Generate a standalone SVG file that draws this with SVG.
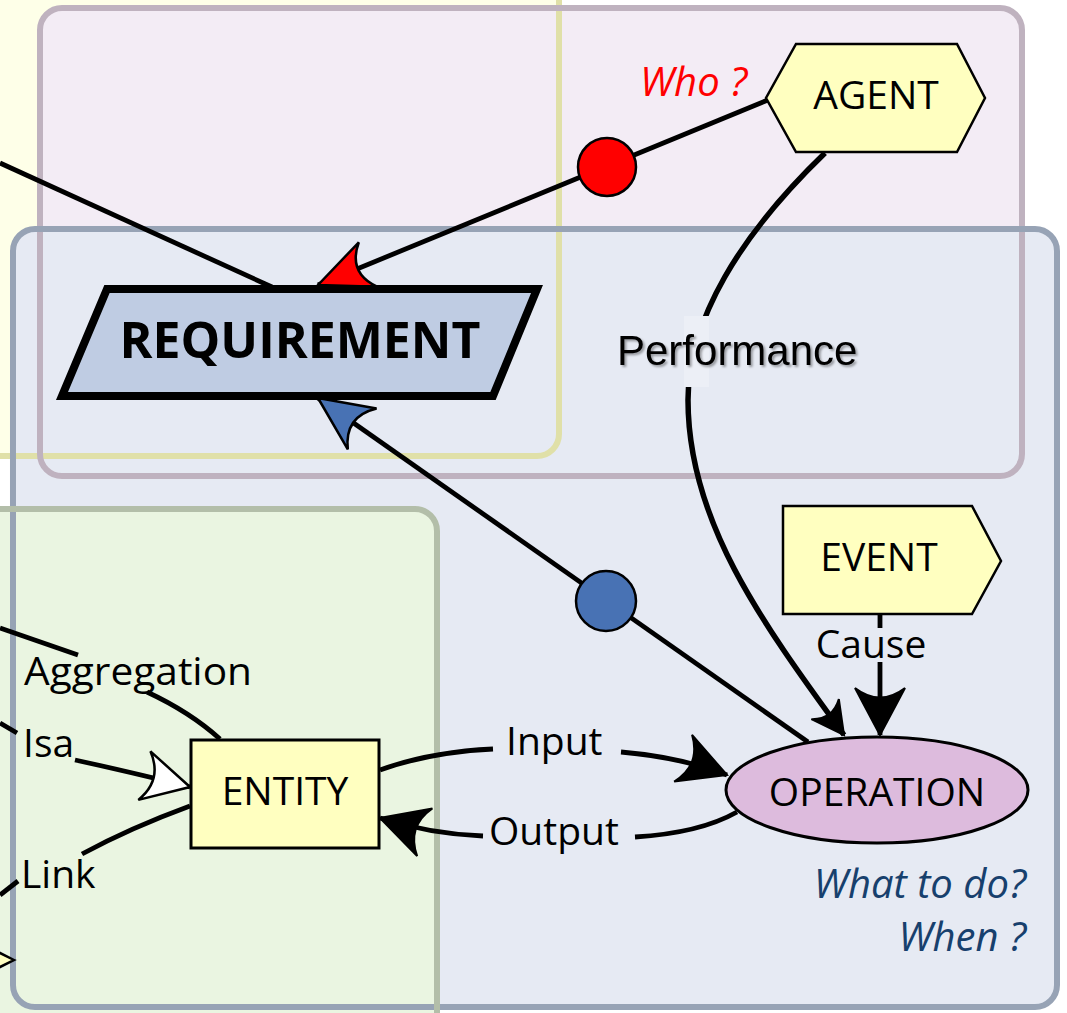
<svg xmlns="http://www.w3.org/2000/svg" width="1067" height="1013" viewBox="0 0 1067 1013">
<style>
.lbl{font-family:"Open Sans","Noto Sans","DejaVu Sans",sans-serif;font-size:39px;fill:#000}
.nd{stroke:#000;stroke-width:2.5;fill:#FFFFC0}
.ln{fill:none;stroke:#000;stroke-width:4.8}
.pf{fill:none;stroke:#000;stroke-width:5.5}
.q{font-family:"Open Sans","Noto Sans","DejaVu Sans",sans-serif;font-style:italic;font-size:40px}
</style>
<defs>
<marker id="aRed" markerUnits="userSpaceOnUse" markerWidth="70" markerHeight="70" refX="0" refY="0" orient="auto" overflow="visible">
<path d="M0,0 L-54,-24 Q-32,0 -54,24 Z" fill="#FF0000" stroke="#000" stroke-width="2.5"/>
</marker>
<marker id="aBlue" markerUnits="userSpaceOnUse" markerWidth="70" markerHeight="70" refX="0" refY="0" orient="auto" overflow="visible">
<path d="M0,0 L-54,-25 Q-32,0 -54,25 Z" fill="#4872B4" stroke="#000" stroke-width="2.5"/>
</marker>
<marker id="aBlk" markerUnits="userSpaceOnUse" markerWidth="70" markerHeight="70" refX="0" refY="0" orient="auto" overflow="visible">
<path d="M0,0 L-47,-25 Q-28,0 -47,25 Z" fill="#000" stroke="#000" stroke-width="2"/>
</marker>
<marker id="aSm" markerUnits="userSpaceOnUse" markerWidth="50" markerHeight="50" refX="0" refY="0" orient="auto" overflow="visible">
<path d="M0,0 L-32,-17 Q-19,0 -32,17 Z" fill="#000" stroke="#000" stroke-width="2"/>
</marker>
<marker id="aWht" markerUnits="userSpaceOnUse" markerWidth="70" markerHeight="70" refX="0" refY="0" orient="auto" overflow="visible">
<path d="M0,0 L-47,-25 Q-28,0 -47,25 Z" fill="#FFFFFF" stroke="#000" stroke-width="2.5"/>
</marker>
<filter id="shadow" x="-10%" y="-30%" width="125%" height="160%">
<feDropShadow dx="2" dy="2" stdDeviation="1" flood-color="#000" flood-opacity="0.35"/>
</filter>
</defs>

<rect width="1067" height="1013" fill="#FFFFFF"/>

<g id="panels">
<rect x="-40" y="-40" width="599" height="496" rx="22" fill="#FEFFE8"/>
<rect x="40" y="8" width="982" height="468" rx="22" fill="#F3ECF5"/>
<rect x="13" y="229" width="1044" height="778" rx="22" fill="#E6EAF3"/>
<rect x="-40" y="509" width="477" height="600" rx="22" fill="#EAF5E1"/>
<rect x="-40" y="-40" width="599" height="496" rx="22" fill="none" stroke="#E0E0A8" stroke-width="6"/>
<rect x="40" y="8" width="982" height="468" rx="22" fill="none" stroke="#BFB2BF" stroke-width="6"/>
<rect x="13" y="229" width="1044" height="778" rx="22" fill="none" stroke="#97A3B5" stroke-width="6"/>
<rect x="-40" y="509" width="477" height="600" rx="22" fill="none" stroke="#B3BEA9" stroke-width="6"/>
</g>

<g id="connectors">
<path class="ln" d="M0,163 L272,287"/>
<path class="ln" d="M768,100 L318,285" marker-end="url(#aRed)"/>
<circle cx="607" cy="167" r="29" fill="#FF0000" stroke="#000" stroke-width="2.5"/>
<path class="ln" d="M808,742 L318,398" marker-end="url(#aBlue)"/>
<circle cx="606" cy="601" r="30" fill="#4872B4" stroke="#000" stroke-width="2.5"/>
<path class="pf" d="M825,153 C740,235 688,320 688,400 C688,520 760,620 844,735" marker-end="url(#aSm)"/>
<rect x="684" y="316" width="25" height="71" fill="#ECEFF6"/>
<text x="617" y="365" font-family="'Liberation Sans',Arial,sans-serif" font-size="42" fill="#000" filter="url(#shadow)">Performance</text>
<path class="ln" d="M880,615 L880,628"/>
<path class="ln" d="M880,662 L880,735" marker-end="url(#aBlk)"/>
<text class="lbl" x="871" y="658" text-anchor="middle" font-size="38">Cause</text>
<path class="ln" d="M380,770 Q430,752 493,749"/>
<path class="ln" d="M621,752 Q680,757 727,775" marker-end="url(#aBlk)"/>
<text class="lbl" x="506" y="755">Input</text>
<path class="ln" d="M737,812 Q700,833 635,837"/>
<path class="ln" d="M483,836 Q430,834 380,818" marker-end="url(#aBlk)"/>
<text class="lbl" x="489" y="845">Output</text>
<path class="ln" d="M0,628 L78,655"/>
<path class="ln" d="M147,692 Q190,712 220,739"/>
<text class="lbl" x="24" y="685" font-size="40" textLength="228" lengthAdjust="spacingAndGlyphs">Aggregation</text>
<path class="ln" d="M0,723 L17,733"/>
<path class="ln" d="M75,760 Q130,772 190,787" marker-end="url(#aWht)"/>
<text class="lbl" x="23" y="757">Isa</text>
<path class="ln" d="M190,806 Q130,828 82,854"/>
<path class="ln" d="M18,881 L0,895"/>
<text class="lbl" x="21" y="888">Link</text>
<path d="M14,960 L-20,943 Q-10,960 -20,977 Z" fill="#FFFFC0" stroke="#000" stroke-width="2.5"/>
</g>

<g id="requirement">
<polygon points="107,289 537,289 493,396 62,396" fill="#BFCCE3" stroke="#000" stroke-width="8"/>
<text x="300" y="358" text-anchor="middle" font-family="'Open Sans','Noto Sans',sans-serif" font-weight="bold" font-size="50" fill="#000">REQUIREMENT</text>
</g>

<g id="agent">
<polygon class="nd" points="796,44 957,44 985,98 957,152 796,152 766,98"/>
<text class="lbl" x="876" y="109" text-anchor="middle">AGENT</text>
</g>
<g id="who">
<text class="q" x="640" y="96" fill="#FF0000">Who ?</text>
</g>

<g id="event">
<polygon class="nd" points="783,506 972,506 1001,561 972,614 783,614"/>
<text class="lbl" x="879" y="571" text-anchor="middle" font-size="38">EVENT</text>
</g>

<g id="operation">
<ellipse cx="877" cy="790" rx="151" ry="53" fill="#DDBBDD" stroke="#000" stroke-width="3"/>
<text class="lbl" x="877" y="806" text-anchor="middle" font-size="38">OPERATION</text>
</g>
<g id="operation-note">
<text class="q" x="1026" y="898" text-anchor="end" fill="#17406D" font-size="41">What to do?</text>
<text class="q" x="1026" y="951" text-anchor="end" fill="#17406D" font-size="41">When ?</text>
</g>

<g id="entity">
<rect x="191" y="740" width="188" height="108" fill="#FFFFC0" stroke="#000" stroke-width="3"/>
<text class="lbl" x="285" y="805" text-anchor="middle">ENTITY</text>
</g>
</svg>
